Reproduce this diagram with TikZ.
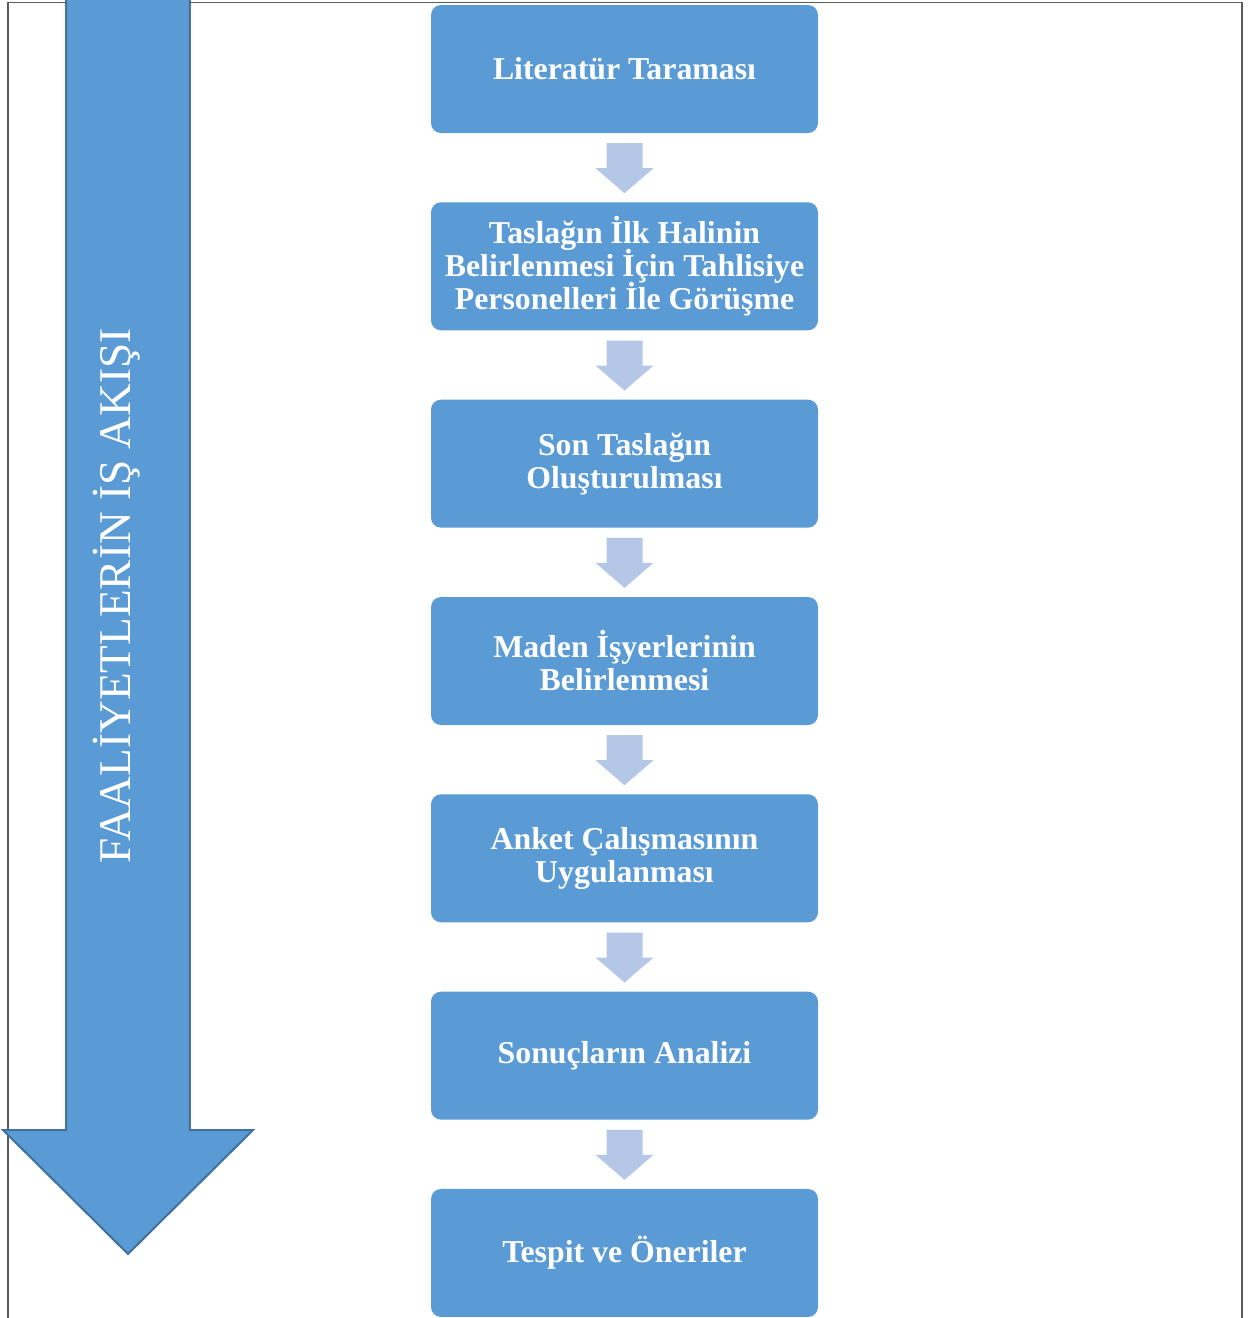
\documentclass[tikz,border=0pt]{standalone}
\usepackage{fontspec}
\setmainfont{Liberation Serif}
\usetikzlibrary{positioning,calc}
\definecolor{boxblue}{HTML}{5B9BD5}
\definecolor{edgeblue}{HTML}{41719C}
\definecolor{stepblue}{HTML}{B4C7E7}
\definecolor{framegray}{HTML}{5A5A5A}

\begin{document}
\begin{tikzpicture}[
    stepbox/.style={rectangle, rounded corners=0.1cm, fill=boxblue, text=white, minimum width=3.87cm, minimum height=1.28cm, inner sep=0pt, align=center, font={\bfseries\fontsize{9.05}{9.4}\selectfont\lineskiplimit=-10pt}},
    downarr/.style={fill=stepblue},
    flowarr/.style={fill=boxblue, draw=edgeblue, line width=0.2mm}
]
    \useasboundingbox (0,0) rectangle (12.57,-13.18);

    % Frame
    \draw[framegray, line width=0.15mm] (0.08,-13.18) -- (0.08,-0.025) -- (12.42,-0.025) -- (12.42,-13.18);

    % Big flow arrow
    \draw[flowarr] (0.66,0.05) -- (0.66,-11.30) -- (0.03,-11.30) -- (1.28,-12.54) -- (2.53,-11.30) -- (1.90,-11.30) -- (1.90,0.05);
    \node[rotate=90, anchor=base, text=white, font=\fontsize{12.9}{14}\selectfont] (flowlabel) at (1.31,-5.96) {FAALİYETLERİN İŞ AKIŞI};

    % Steps
    \foreach \i/\txt in {1/{Literatür Taraması},
                         2/{Taslağın İlk Halinin\\Belirlenmesi İçin Tahlisiye\\Personelleri İle Görüşme},
                         3/{Son Taslağın\\Oluşturulması},
                         4/{Maden İşyerlerinin\\Belirlenmesi},
                         5/{Anket Çalışmasının\\Uygulanması},
                         6/{Sonuçların Analizi},
                         7/{Tespit ve Öneriler}} {
        \node[stepbox] (s\i) at (6.245, {-0.69-1.9733*(\i-1)}) {\txt};
    }

    % Arrows between steps
    \foreach \i/\j in {1/2, 2/3, 3/4, 4/5, 5/6, 6/7} {
        \coordinate (m\i) at ($(s\i.south)!0.5!(s\j.north)$);
        \fill[downarr] ([shift={(-0.18,0.245)}]m\i) -- ([shift={(-0.18,-0.005)}]m\i)
            -- ([shift={(-0.29,-0.005)}]m\i) -- ([shift={(0,-0.255)}]m\i)
            -- ([shift={(0.29,-0.005)}]m\i) -- ([shift={(0.18,-0.005)}]m\i)
            -- ([shift={(0.18,0.245)}]m\i) -- cycle;
    }
\end{tikzpicture}
\end{document}
